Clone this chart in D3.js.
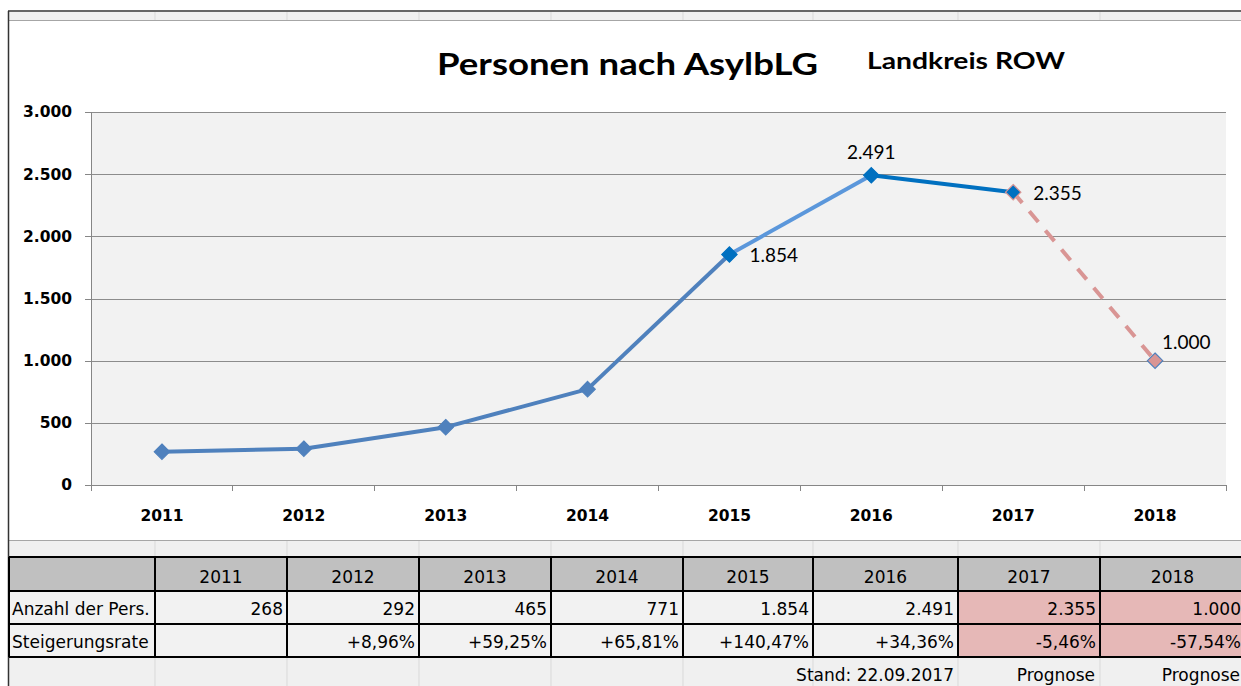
<!DOCTYPE html>
<html lang="de">
<head>
<meta charset="utf-8">
<title>Personen nach AsylbLG</title>
<script src="https://cdn.jsdelivr.net/npm/d3@7"></script>
<style>
  body { margin: 0; background: #fff; }
  svg { display: block; }
  .axis path, .axis line { stroke: #868686; shape-rendering: crispEdges; }
  .axis text { font-family: "DejaVu Sans", sans-serif; font-weight: bold; font-size: 15.5px; fill: #000; }
  .grid line { stroke: #8c8c8c; shape-rendering: crispEdges; }
  .tbl text { font-family: "DejaVu Sans", sans-serif; font-size: 17px; fill: #000; }
</style>
</head>
<body>
<script>
// data
var years = ["2011", "2012", "2013", "2014", "2015", "2016", "2017", "2018"];
var persons = [268, 292, 465, 771, 1854, 2491, 2355, 1000];
var rates = [null, 8.96, 59.25, 65.81, 140.47, 34.36, -5.46, -57.54];
var yTicks = [0, 500, 1000, 1500, 2000, 2500, 3000];
var rowLabels = ["Anzahl der Pers.", "Steigerungsrate"];
var forecast = ["2017", "2018"];
var footNote = "Stand: 22.09.2017";

// styles per segment / point
var segColor = ["#4f81bd", "#4f81bd", "#4f81bd", "#4f81bd", "#5b97db", "#0070c0", "#d99594"];
var segDash = [null, null, null, null, null, null, "14,11"];
var markFill = ["#4f81bd", "#4f81bd", "#4f81bd", "#4f81bd", "#0070c0", "#0070c0", "#0070c0", "#d99594"];
var markStroke = ["#4f81bd", "#4f81bd", "#4f81bd", "#4f81bd", "#0070c0", "#0070c0", "#d99594", "#4f81bd"];
var labelPos = [null, null, null, null, "right", "above", "right", "aboveRight"];

var W = 1241, H = 686;
var de = d3.formatLocale({decimal: ",", thousands: ".", grouping: [3], currency: ["", " €"], minus: "-"});
var fmtInt = de.format(",");
var fmtPct = function(v) { return v == null ? "" : (v > 0 ? "+" : "") + de.format(".2f")(v) + "%"; };

var svg = d3.select("body").append("svg")
    .attr("width", W)
    .attr("height", H);

svg.append("rect").attr("x", 0).attr("y", 0).attr("width", W).attr("height", H).attr("fill", "#fff");

var colEdges = [9, 155, 287, 419, 551, 683, 813, 958, 1100, 1245];

// light strips (sheet rows peeking through)
function strip(y0, y1) {
  svg.append("rect").attr("x", 9).attr("y", y0).attr("width", W - 9).attr("height", y1 - y0).attr("fill", "#f0f0f0");
  colEdges.slice(1, -1).forEach(function(xe) {
    svg.append("line").attr("x1", xe).attr("x2", xe).attr("y1", y0).attr("y2", y1)
       .attr("stroke", "#d9d9d9").attr("stroke-width", 1);
  });
}
strip(12, 20);
strip(541, 557);
strip(657, H);
svg.append("line").attr("x1", 8).attr("x2", W).attr("y1", 11).attr("y2", 11).attr("stroke", "#333").attr("stroke-width", 1.5);
svg.append("line").attr("x1", 9).attr("x2", W).attr("y1", 20.5).attr("y2", 20.5).attr("stroke", "#a6a6a6");
svg.append("line").attr("x1", 9).attr("x2", W).attr("y1", 540.5).attr("y2", 540.5).attr("stroke", "#a6a6a6");
svg.append("line").attr("x1", 8.5).attr("x2", 8.5).attr("y1", 11).attr("y2", H).attr("stroke", "#333").attr("stroke-width", 1.5);

// chart
var x = d3.scaleBand().domain(years).range([91, 1226]).paddingInner(0).paddingOuter(0);
var y = d3.scaleLinear().domain([0, 3000]).range([485, 112]);

svg.append("rect")
   .attr("x", 91).attr("y", y(3000))
   .attr("width", 1226 - 91).attr("height", y(0) - y(3000))
   .attr("fill", "#f2f2f2");

svg.append("g").attr("class", "grid")
  .selectAll("line").data(yTicks.slice(1)).enter().append("line")
  .attr("x1", 91).attr("x2", 1226)
  .attr("y1", function(d) { return Math.round(y(d)) + 0.5; })
  .attr("y2", function(d) { return Math.round(y(d)) + 0.5; });

var yAxis = d3.axisLeft(y).tickValues(yTicks).tickSize(6).tickPadding(13).tickFormat(fmtInt);
svg.append("g").attr("class", "axis").attr("transform", "translate(91,0)").call(yAxis)
   .call(function(g) { g.select(".domain").attr("stroke-width", 1.5); });

var xAxis = d3.axisBottom(x).tickSize(0).tickPadding(31);
var gx = svg.append("g").attr("class", "axis").attr("transform", "translate(0,485)").call(xAxis);
gx.select(".domain").attr("stroke-width", 1.5);
gx.selectAll("text").attr("dy", "0.35em");
// tick marks at category boundaries
gx.selectAll(".bnd").data(years.concat(["end"])).enter().append("line")
  .attr("class", "bnd")
  .attr("x1", function(d, i) { return 91 + i * x.bandwidth(); })
  .attr("x2", function(d, i) { return 91 + i * x.bandwidth(); })
  .attr("y1", 0).attr("y2", 6);

// points
var pts = years.map(function(yr, i) {
  return {i: i, x: x(yr) + x.bandwidth() / 2, y: y(persons[i]), v: persons[i], pos: labelPos[i]};
});

// line segments
var line = d3.line().x(function(d) { return d.x; }).y(function(d) { return d.y; });
svg.append("g").selectAll("path").data(d3.pairs(pts)).enter().append("path")
   .attr("d", function(d) { return line(d); })
   .attr("fill", "none")
   .attr("stroke", function(d, i) { return segColor[i]; })
   .attr("stroke-width", 4)
   .attr("stroke-dasharray", function(d, i) { return segDash[i]; });

// markers
var diamond = d3.symbol().type(d3.symbolDiamond2).size(150);
svg.append("g").selectAll("path").data(pts).enter().append("path")
   .attr("transform", function(d) { return "translate(" + d.x + "," + d.y + ")"; })
   .attr("d", diamond)
   .attr("fill", function(d) { return markFill[d.i]; })
   .attr("stroke", function(d) { return markStroke[d.i]; })
   .attr("stroke-width", 1.2);

// data labels
svg.append("g").selectAll("text").data(pts.filter(function(d) { return d.pos; })).enter()
   .append("text")
   .attr("font-family", "Lato, sans-serif")
   .attr("font-size", 19)
   .attr("x", function(d) {
     return d.pos === "above" ? d.x : d.x + (d.pos === "aboveRight" ? 7 : 20);
   })
   .attr("y", function(d) {
     return d.pos === "above" ? d.y - 16 : (d.pos === "aboveRight" ? d.y - 12 : d.y + 8);
   })
   .attr("text-anchor", function(d) { return d.pos === "above" ? "middle" : "start"; })
   .text(function(d) { return fmtInt(d.v); });

// title
svg.append("text").attr("x", 437).attr("y", 75)
   .attr("font-family", "Lato, sans-serif").attr("font-weight", "bold").attr("font-size", 31)
   .attr("textLength", 381).attr("lengthAdjust", "spacingAndGlyphs")
   .text("Personen nach AsylbLG");
svg.append("text").attr("x", 867).attr("y", 69)
   .attr("font-family", "Lato, sans-serif").attr("font-weight", "bold").attr("font-size", 23)
   .attr("textLength", 198).attr("lengthAdjust", "spacingAndGlyphs")
   .text("Landkreis ROW");

// table
var tbl = svg.append("g").attr("class", "tbl");
var rowTop = [557, 591, 624, 657];
var cols = [""].concat(years);

function cell(ci, ri, fill) {
  tbl.append("rect")
     .attr("x", colEdges[ci]).attr("y", rowTop[ri])
     .attr("width", colEdges[ci + 1] - colEdges[ci]).attr("height", rowTop[ri + 1] - rowTop[ri])
     .attr("fill", fill);
}
cols.forEach(function(c, ci) {
  cell(ci, 0, "#c0c0c0");
  var pink = forecast.indexOf(c) >= 0;
  cell(ci, 1, pink ? "#e6b8b7" : "#f2f2f2");
  cell(ci, 2, pink ? "#e6b8b7" : "#f2f2f2");
});
colEdges.forEach(function(xe) {
  tbl.append("line").attr("x1", xe).attr("x2", xe).attr("y1", rowTop[0]).attr("y2", rowTop[3])
     .attr("stroke", "#000").attr("stroke-width", 2);
});
rowTop.forEach(function(ye) {
  tbl.append("line").attr("x1", 9).attr("x2", W).attr("y1", ye).attr("y2", ye)
     .attr("stroke", "#000").attr("stroke-width", 2);
});
years.forEach(function(yr, i) {
  tbl.append("text").attr("x", (colEdges[i + 1] + colEdges[i + 2]) / 2).attr("y", 583)
     .attr("text-anchor", "middle").text(yr);
});
rowLabels.forEach(function(l, ri) {
  tbl.append("text").attr("x", 12).attr("y", 615 + ri * 33).text(l);
});
persons.forEach(function(v, i) {
  tbl.append("text").attr("x", colEdges[i + 2] - 4).attr("y", 615).attr("text-anchor", "end").text(fmtInt(v));
  tbl.append("text").attr("x", colEdges[i + 2] - 4).attr("y", 648).attr("text-anchor", "end").text(fmtPct(rates[i]));
});
tbl.append("text").attr("x", colEdges[7] - 4).attr("y", 681).attr("text-anchor", "end").text(footNote);
forecast.forEach(function(f) {
  var ci = years.indexOf(f) + 1;
  tbl.append("text").attr("x", colEdges[ci + 1] - 5).attr("y", 681)
     .attr("text-anchor", "end").text("Prognose");
});
</script>
</body>
</html>
